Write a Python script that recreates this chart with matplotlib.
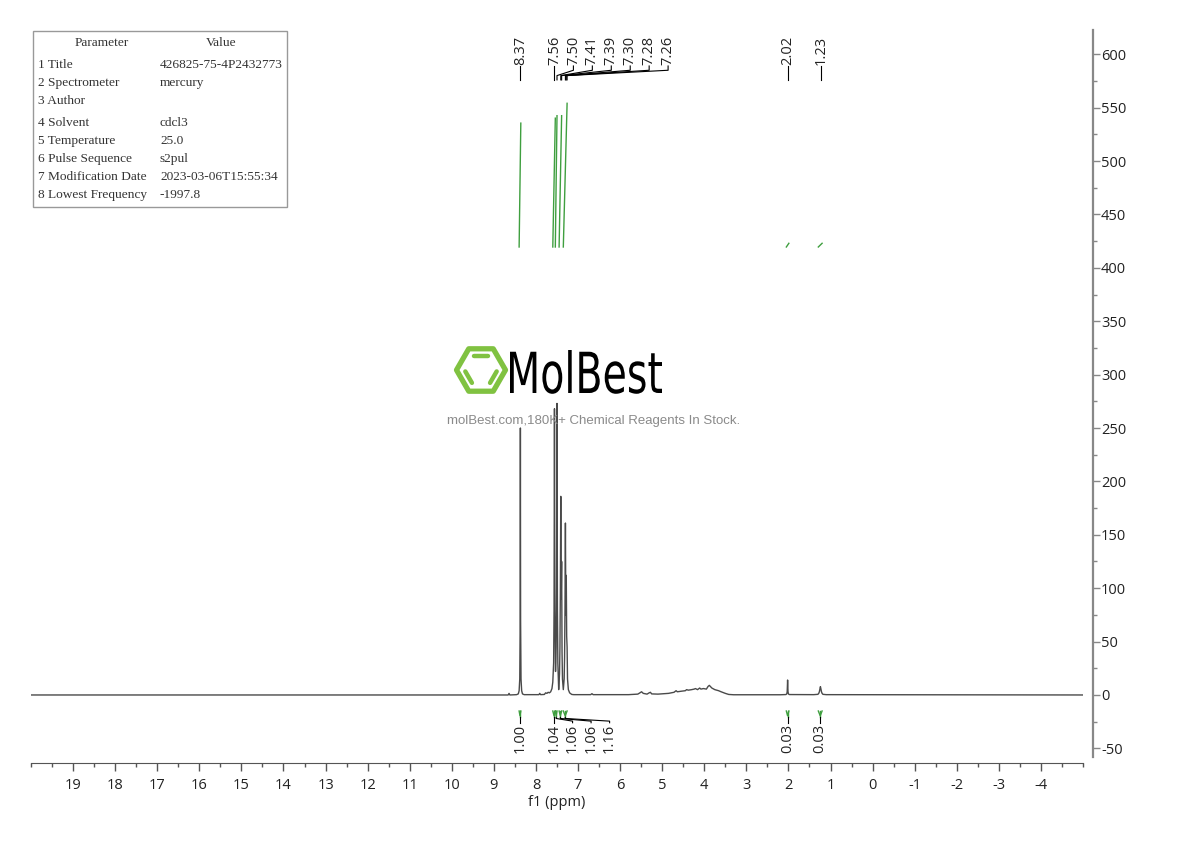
import numpy as np
import matplotlib
matplotlib.use("Agg")
import matplotlib.pyplot as plt
from matplotlib.ticker import MultipleLocator
from matplotlib.textpath import TextPath
from matplotlib.patches import PathPatch, Rectangle, Polygon
from matplotlib.font_manager import FontProperties
from matplotlib.transforms import Affine2D

plt.rcParams['font.family'] = ['Open Sans', 'DejaVu Sans']
plt.rcParams['axes.unicode_minus'] = False

# spectrum trace (ppm, intensity)
spec_ppm = [20.0, 8.80, 8.66, 8.64, 8.62, 8.46,
            8.42, 8.40, 8.385, 8.375, 8.37, 8.365, 8.355, 8.34, 8.32,
            8.28, 8.05, 7.93, 7.91, 7.89, 7.80, 7.77, 7.74, 7.71, 7.68, 7.65,
            7.62, 7.60, 7.58, 7.57, 7.56, 7.55, 7.535, 7.52, 7.51, 7.50, 7.49,
            7.48, 7.46, 7.44, 7.43, 7.42, 7.41, 7.40, 7.39, 7.38, 7.37, 7.35,
            7.33, 7.32, 7.31, 7.30, 7.29, 7.28, 7.27, 7.26, 7.25, 7.23, 7.20, 7.15,
            7.10, 6.70, 6.67, 6.64, 5.80, 5.58, 5.53, 5.49, 5.45, 5.36, 5.31,
            5.28, 5.25, 5.10, 4.85, 4.72, 4.67, 4.64, 4.55, 4.45, 4.42, 4.38,
            4.30, 4.24, 4.21, 4.16, 4.11, 4.08, 4.02, 3.95, 3.91, 3.88, 3.82,
            3.75, 3.66, 3.60, 3.50, 3.42, 3.30,
            2.20, 2.06, 2.04, 2.03, 2.025, 2.02, 2.015, 2.01, 2.00, 1.98,
            1.40, 1.30, 1.28, 1.265, 1.25, 1.24, 1.23, 1.215, 1.20, 1.18, 1.10, -5.0]
spec_int = [0, 0, 0, 1.5, 0, 0.3,
            1, 4, 15, 70, 250, 70, 15, 4, 1,
            0.3, 0.3, 0.3, 1.5, 0.3, 0.5, 2, 1.5, 2.5, 2, 3,
            6, 12, 30, 80, 268, 80, 22, 45, 100, 273, 80,
            30, 5, 20, 45, 100, 186, 90, 125, 40, 15, 5,
            15, 35, 80, 161, 75, 112, 55, 45, 15, 5, 2, 0.5,
            0.3, 0.3, 1.2, 0.3, 0.3, 0.8, 2.0, 3.0, 1.5, 0.8, 2.0,
            2.5, 1.0, 0.8, 1.5, 2.5, 4.0, 3.0, 3.5, 4.0, 5.0, 4.5,
            5.0, 5.5, 6.0, 5.0, 6.5, 5.5, 6.0, 5.5, 8.0, 9.0, 6.5,
            5.0, 4.0, 3.0, 1.5, 0.5, 0.2,
            0.2, 0.4, 1, 3, 8, 14, 8, 3, 1, 0.4,
            0.3, 0.6, 1.5, 3, 6, 7.8, 6, 3, 1.5, 0.6, 0.3, 0]

peak_ppm = [8.37, 7.56, 7.50, 7.41, 7.39, 7.30, 7.28, 7.26, 2.02, 1.23]

int_start = [8.40, 7.60, 7.54, 7.45, 7.35, 2.05, 1.29]
int_end = [8.36, 7.54, 7.50, 7.39, 7.26, 1.99, 1.20]
int_vals = [1.00, 1.04, 1.06, 1.06, 1.16, 0.03, 0.03]

x_ticks = list(range(19, -5, -1))
y_ticks = list(range(-50, 601, 50))

param_names = ['Title', 'Spectrometer', 'Author', 'Solvent', 'Temperature',
               'Pulse Sequence', 'Modification Date', 'Lowest Frequency']
param_values = ['426825-75-4P2432773', 'mercury', '', 'cdcl3', '25.0',
                's2pul', '2023-03-06T15:55:34', '-1997.8']

W, H = 1190, 841
green = '#3f9f3f'

fig = plt.figure(figsize=(W / 100, H / 100), dpi=100)
ax = fig.add_axes([31 / W, 78 / H, 1052 / W, 733 / H])

ax.plot(spec_ppm, spec_int, color='#4a4a4a', lw=1.0)
ax.set_xlim(20, -5)
ax.set_ylim(-63.7, 622.7)

# integral curves (drawn up top)
base, scale = 419.5, 116
for s, e, v in zip(int_start, int_end, int_vals):
    ax.plot([s, e], [base, base + v * scale], color=green, lw=1.0)

# peak labels, spread out when they crowd
prev = None
for p in peak_ppm:
    lx = p if prev is None else min(p, prev - 0.45)
    prev = lx
    ax.plot([lx, lx, p, p], [589, 585, 580, 576], color='k', lw=0.8)
    ax.text(lx, 590, f'{p:.2f}', rotation=90, ha='center', va='bottom',
            fontsize=10.5, color='#222222')

# integral brackets and values under the baseline
prev = None
for s, e, v in zip(int_start, int_end, int_vals):
    c = (s + e) / 2
    lx = c if prev is None else min(c, prev - 0.44)
    prev = lx
    ax.plot([s, c, e], [-15, -19.5, -15], color=green, lw=1.0)
    ax.plot([c, c], [-15, -21], color=green, lw=1.0)
    ax.plot([c, c, lx, lx], [-21, -22, -24.5, -26], color='k', lw=0.8)
    ax.text(lx, -27, f'{v:.2f}', rotation=90, ha='center', va='top',
            fontsize=10.5, color='#222222')

ax.set_xticks(x_ticks)
ax.set_xticklabels([str(t) for t in x_ticks])
ax.xaxis.set_minor_locator(MultipleLocator(0.5))
ax.yaxis.tick_right()
ax.set_yticks(y_ticks)
ax.set_yticklabels([str(t) for t in y_ticks])
ax.yaxis.set_minor_locator(MultipleLocator(25))

ax.tick_params(axis='x', which='major', length=6, width=1, color='#555555',
               labelcolor='#222222', labelsize=10.5, pad=5)
ax.tick_params(axis='x', which='minor', length=3, width=1, color='#555555')
ax.tick_params(axis='y', which='major', length=5, width=1, color='#888888',
               labelcolor='#222222', labelsize=10.5, pad=1)
ax.tick_params(axis='y', which='minor', length=3, width=1, color='#888888')

ax.spines['top'].set_visible(False)
ax.spines['left'].set_visible(False)
ax.spines['bottom'].set_color('#555555')
ax.spines['right'].set_color('#888888')
ax.spines['right'].set_linewidth(1.6)
ax.spines['right'].set_position(('outward', 7))
ax.spines['right'].set_bounds(-58, 622.7)

ax.set_xlabel('f1 (ppm)', fontsize=10.5, labelpad=1, color='#222222')

# parameter table
fig.add_artist(Rectangle((33 / W, 1 - 207 / H), 254 / W, 176 / H,
                         transform=fig.transFigure, fill=False,
                         edgecolor='#999999', lw=1))
tfont = dict(family='Liberation Serif', fontsize=9.6, color='#333333')
fig.text(102 / W, 1 - 43 / H, 'Parameter', ha='center', va='center', **tfont)
fig.text(221 / W, 1 - 43 / H, 'Value', ha='center', va='center', **tfont)
for i, (n, v) in enumerate(zip(param_names, param_values)):
    y = 65 + 18 * i + (4 if i >= 3 else 0)
    fig.text(38 / W, 1 - y / H, f'{i + 1} {n}', ha='left', va='center', **tfont)
    fig.text(160 / W, 1 - y / H, v, ha='left', va='center', **tfont)

# watermark logo
cx, cy, r = 481, H - 370, 24.5
ang = np.deg2rad(np.arange(0, 360, 60))
hx, hy = cx + r * np.cos(ang), cy + r * np.sin(ang)
fig.add_artist(Polygon(np.c_[hx / W, hy / H], closed=True, fill=False,
                       edgecolor='#80c241', lw=3.8, joinstyle='round',
                       transform=fig.transFigure))
ri = r - 8
for a0 in (60, 180, 300):
    a = np.deg2rad([a0, a0 + 60])
    px, py = cx + ri * np.cos(a), cy + ri * np.sin(a)
    qx = px[0] + (px[1] - px[0]) * np.array([0.1, 0.9])
    qy = py[0] + (py[1] - py[0]) * np.array([0.1, 0.9])
    fig.add_artist(plt.Line2D(qx / W, qy / H, color='#80c241', lw=3.2,
                              solid_capstyle='round', transform=fig.transFigure))

tp = TextPath((0, 0), 'MolBest', size=100, prop=FontProperties(family='DejaVu Sans'))
bb = tp.get_extents()
sx, sy = 152 / bb.width, 43 / bb.y1
tr = (Affine2D().translate(-bb.x0, 0).scale(sx, sy).translate(510, H - 393)
      .scale(1 / W, 1 / H) + fig.transFigure)
fig.add_artist(PathPatch(tp, facecolor='black', edgecolor='none', transform=tr))
fig.text(594 / W, 1 - 421 / H, 'molBest.com,180K+ Chemical Reagents In Stock.',
         ha='center', va='center', color='#8a8a8a', fontsize=9.5,
         family='Liberation Sans')

fig.savefig('out.png', dpi=100)
